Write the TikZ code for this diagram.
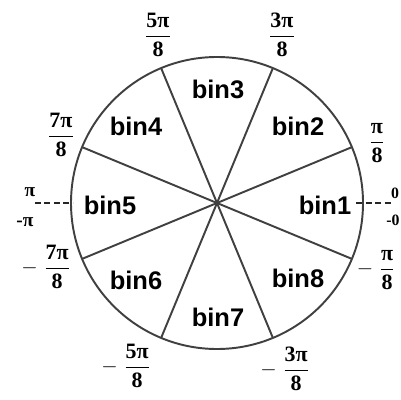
\documentclass[tikz,border=0pt]{standalone}
\usepackage{amsmath}
\usepackage{fontspec}
\setmainfont{Liberation Serif}
\newfontfamily\binfont{Liberation Sans}
\newcommand{\angfrac}[2]{\genfrac{}{}{0.9pt}{0}{\mbox{#1}}{\mbox{#2}}}
\begin{document}
\begin{tikzpicture}[x=0.02cm,y=0.02cm,
  rim/.style={draw=black!75,line width=1.1pt},
  binlbl/.style={font=\binfont\fontsize{14.5}{17}\selectfont\bfseries},
  angl/.style={font=\fontsize{12.5}{15}\selectfont\bfseries,inner sep=0pt},
  endlbl/.style={font=\fontsize{9}{11}\selectfont\bfseries,inner sep=0pt},
  cut/.style={draw=black!85,line width=1.1pt,dash pattern=on 0.12cm off 0.07cm}]
  \useasboundingbox (-217,-196) rectangle (184,203);
  \coordinate (c) at (0,0);
  % wheel and sector borders
  \draw[rim] (c) circle (146);
  \draw[rim] (c) -- (22.5:146);
  \draw[rim] (c) -- (67.5:146);
  \draw[rim] (c) -- (112.5:146);
  \draw[rim] (c) -- (157.5:146);
  \draw[rim] (c) -- (202.5:146);
  \draw[rim] (c) -- (247.5:146);
  \draw[rim] (c) -- (292.5:146);
  \draw[rim] (c) -- (337.5:146);
  % bins
  \node[binlbl] (bin1) at (108,-2) {bin1};
  \node[binlbl] (bin2) at (81,77) {bin2};
  \node[binlbl] (bin3) at (1,114) {bin3};
  \node[binlbl] (bin4) at (-81,77) {bin4};
  \node[binlbl] (bin5) at (-107,-2) {bin5};
  \node[binlbl] (bin6) at (-81,-77) {bin6};
  \node[binlbl] (bin7) at (1,-114) {bin7};
  \node[binlbl] (bin8) at (81,-75) {bin8};
  % bin edges
  \node[angl] (a1) at (160,60) {$\angfrac{π}{8}$};
  \node[angl] (a3) at (65,168) {$\angfrac{3π}{8}$};
  \node[angl] (a5) at (-59,168) {$\angfrac{5π}{8}$};
  \node[angl] (a7) at (-156,68) {$\angfrac{7π}{8}$};
  \node[angl] (m7) at (-171,-64) {$-\;\angfrac{7π}{8}$};
  \node[angl] (m5) at (-91,-163) {$-\;\angfrac{5π}{8}$};
  \node[angl] (m3) at (68,-166) {$-\;\angfrac{3π}{8}$};
  \node[angl] (m1) at (159,-67) {$-\;\angfrac{π}{8}$};
  % wrap-around points
  \node[endlbl,font=\fontsize{11}{13}\selectfont\bfseries] (pi) at (-187,11) {π};
  \node[endlbl,font=\fontsize{11}{13}\selectfont\bfseries] (mpi) at (-192,-19) {-π};
  \node[endlbl] (zero) at (178,10) {0};
  \node[endlbl] (mzero) at (176,-17) {-0};
  \coordinate (wl) at (-182,0);
  \coordinate (wr) at (-144,0);
  \coordinate (el) at (139,0);
  \coordinate (er) at (174,0);
  \draw[cut] (wl) -- (wr);
  \draw[cut] (el) -- (er);
\end{tikzpicture}
\end{document}
